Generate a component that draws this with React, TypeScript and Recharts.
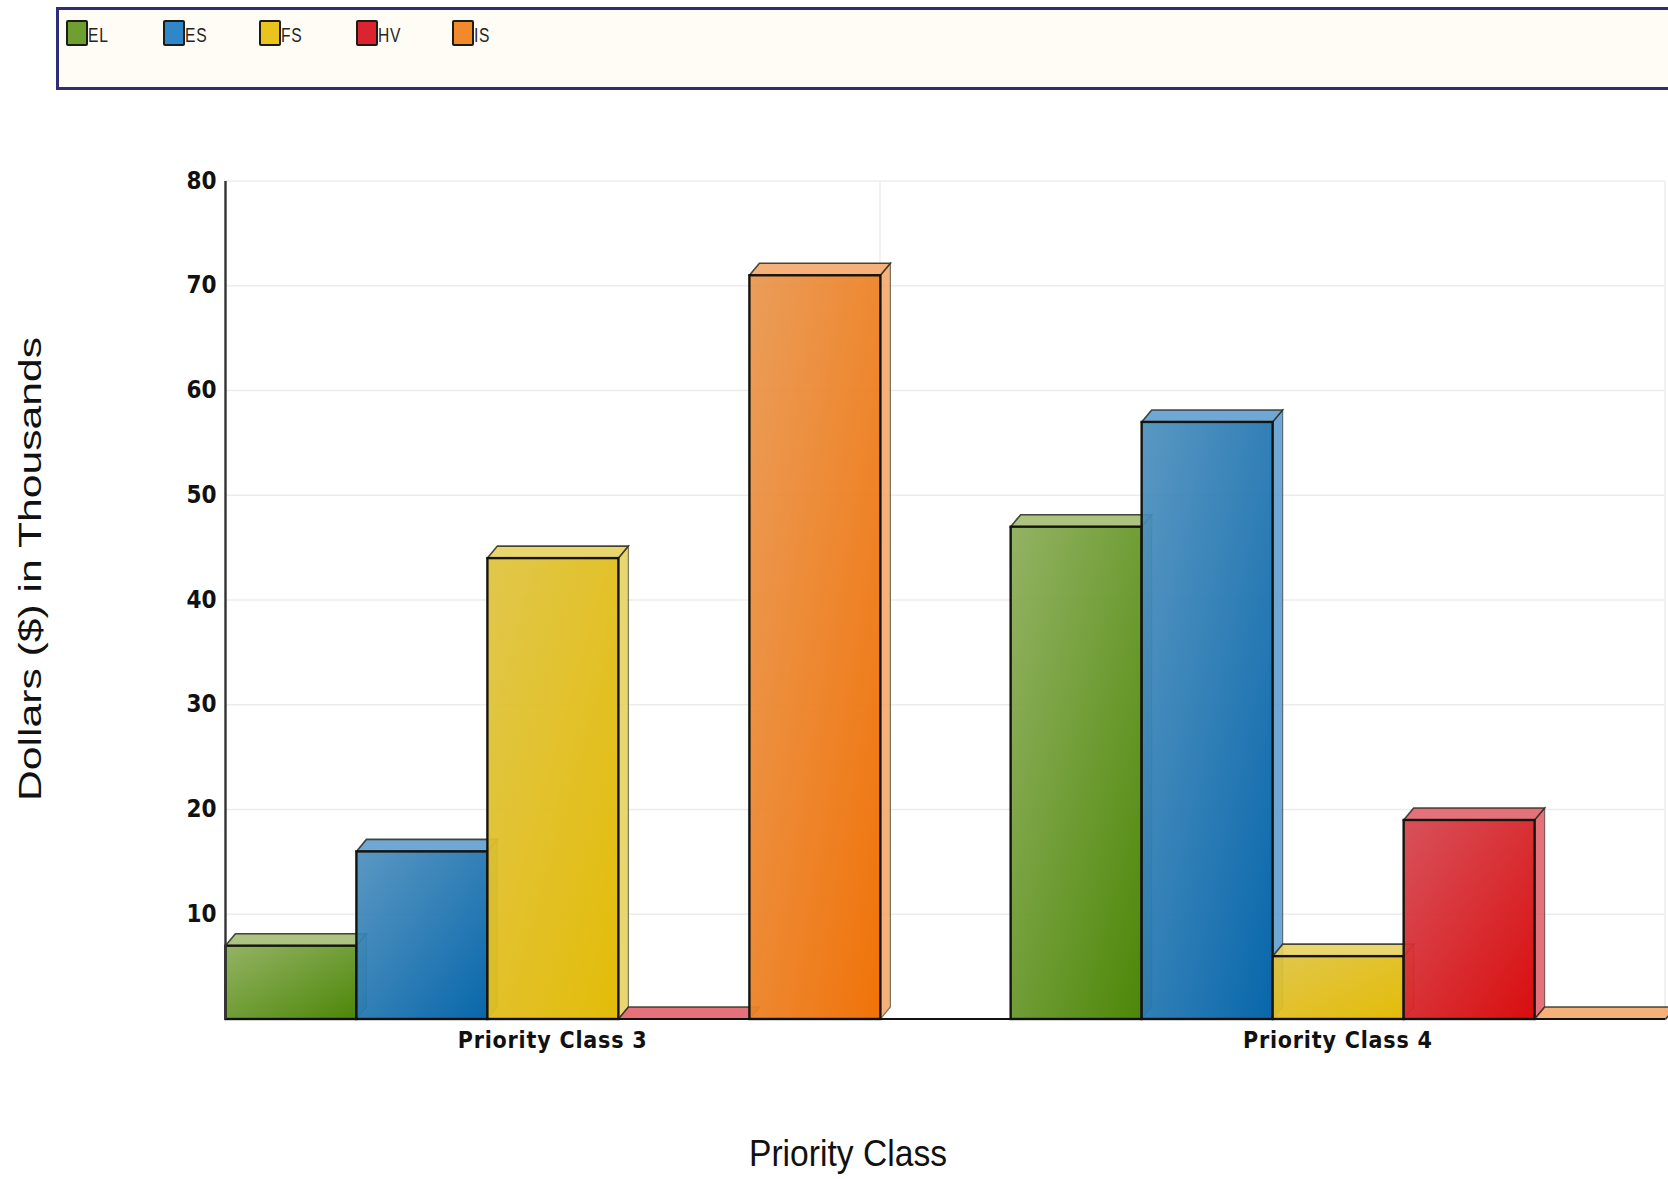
import React from 'react';
import { BarChart, Bar, XAxis, YAxis, CartesianGrid, Legend, Label } from 'recharts';

// ── data ─────────────────────────────────────────────
const categories = ['Priority Class 3', 'Priority Class 4'];
const elValues = [7, 47];
const esValues = [16, 57];
const fsValues = [44, 6];
const hvValues = [0, 19];
const isValues = [71, 0];
const yTicks = [0, 10, 20, 30, 40, 50, 60, 70, 80];

const rows = categories.map((name, i) => ({
  name,
  EL: elValues[i],
  ES: esValues[i],
  FS: fsValues[i],
  HV: hvValues[i],
  IS: isValues[i],
}));

const seriesStyles = [
  { key: 'EL', base: '#6f9f30', light: '#8bad58', dark: '#478300', face: '#a3bd74' },
  { key: 'ES', base: '#2f86c8', light: '#4e90be', dark: '#0062a8', face: '#5f9fcf' },
  { key: 'FS', base: '#e8c41c', light: '#dfc23e', dark: '#e2ba00', face: '#e8d25f' },
  { key: 'HV', base: '#dc2430', light: '#d5444e', dark: '#d80606', face: '#e2626c' },
  { key: 'IS', base: '#f28a2c', light: '#e9964e', dark: '#f06e00', face: '#f4a96a' },
];

const FONT = '"Liberation Sans", Arial, sans-serif';
const CONDENSED = '"DejaVu Sans Condensed", "DejaVu Sans", sans-serif';
const DEPTH_X = 10;
const DEPTH_Y = 12;

// front face plus the translucent top and side faces of a fake 3D column
const Bar3D = (props: any) => {
  const { x, y, width, height, dataKey } = props;
  const style = seriesStyles.find((s) => s.key === dataKey)!;
  const top = `M${x},${y} L${x + DEPTH_X},${y - DEPTH_Y} L${x + width + DEPTH_X},${y - DEPTH_Y} L${x + width},${y} Z`;
  const side = `M${x + width},${y} L${x + width + DEPTH_X},${y - DEPTH_Y} L${x + width + DEPTH_X},${y + height - DEPTH_Y} L${x + width},${y + height} Z`;
  return (
    <g>
      <path d={side} fill={style.face} fillOpacity={0.9} stroke="#2a2a20" strokeOpacity={0.6} strokeWidth={1.2} />
      <path d={top} fill={style.face} fillOpacity={0.9} stroke="#2a2a20" strokeOpacity={0.85} strokeWidth={1.6} />
      <rect
        x={x}
        y={y}
        width={width}
        height={height}
        fill={`url(#grad-${dataKey})`}
        stroke="#14140f"
        strokeWidth={2.4}
      />
    </g>
  );
};

const LegendBox = ({ payload }: any) => (
  <div
    style={{
      width: 1700,
      height: 67,
      boxSizing: 'content-box',
      background: '#fffcf5',
      border: '3px solid #2f2c78',
      display: 'flex',
      paddingLeft: 7,
      paddingTop: 10,
      marginTop: -11,
    }}
  >
    {(payload || []).map((item: any) => (
      <div key={item.value} style={{ display: 'flex', width: 96.5, height: 26 }}>
        <div
          style={{
            width: 18,
            height: 22,
            border: '2px solid #1c1c14',
            borderRadius: 2,
            background: item.color,
          }}
        />
        <span
          style={{
            fontFamily: FONT,
            fontSize: 20,
            letterSpacing: 1,
            color: '#26261f',
            lineHeight: '30px',
            transform: 'scaleX(0.78)',
            transformOrigin: 'left center',
          }}
        >
          {item.value}
        </span>
      </div>
    ))}
  </div>
);

const YTitle = () => (
  <text
    transform="translate(41,569) rotate(-90)"
    textAnchor="middle"
    textLength={464}
    lengthAdjust="spacingAndGlyphs"
    fontFamily={FONT}
    fontSize={31}
    fill="#111"
  >
    Dollars ($) in Thousands
  </text>
);

const XTitle = () => (
  <text
    x={848}
    y={1166}
    textAnchor="middle"
    textLength={198}
    lengthAdjust="spacingAndGlyphs"
    fontFamily={FONT}
    fontSize={37}
    fill="#111"
  >
    Priority Class
  </text>
);

export default function App() {
  return (
    <div style={{ position: 'absolute', left: 0, top: 0, width: 1668, height: 1179, overflow: 'hidden', background: '#fff' }}>
      <BarChart
        width={1668}
        height={1179}
        data={rows}
        margin={{ top: 181, right: 3, bottom: 0, left: 0 }}
        barGap={0}
        barCategoryGap={65.4}
      >
        <defs>
          {seriesStyles.map((s) => (
            <linearGradient key={s.key} id={`grad-${s.key}`} x1="0" y1="0" x2="1" y2="1">
              <stop offset="0%" stopColor={s.light} stopOpacity={0.93} />
              <stop offset="100%" stopColor={s.dark} stopOpacity={0.97} />
            </linearGradient>
          ))}
        </defs>
        <CartesianGrid
          stroke="#ececec"
          strokeWidth={1.5}
          verticalCoordinatesGenerator={({ offset }: any) => [offset.left + 654.5, offset.left + offset.width]}
        />
        <XAxis
          dataKey="name"
          height={160}
          padding={{ left: -65.5, right: -65.5 }}
          interval={0}
          tickLine={false}
          tickMargin={7}
          axisLine={{ stroke: '#111', strokeWidth: 2 }}
          tick={{ fontFamily: CONDENSED, fontWeight: 700, fontSize: 23, letterSpacing: 0.8, fill: '#111' }}
        >
          <Label content={<XTitle />} />
        </XAxis>
        <YAxis
          width={225.5}
          domain={[0, 80]}
          ticks={yTicks}
          tickLine={false}
          tickMargin={3}
          tickFormatter={(v: number) => (v === 0 ? '' : String(v))}
          axisLine={{ stroke: '#333', strokeWidth: 2.4 }}
          tick={{ fontFamily: CONDENSED, fontWeight: 700, fontSize: 24, fill: '#111', dy: -1 }}
        >
          <Label content={<YTitle />} />
        </YAxis>
        <Legend
          layout="horizontal"
          align="center"
          verticalAlign="middle"
          wrapperStyle={{ left: 56, top: 18, width: 1700 }}
          content={<LegendBox />}
        />
        {seriesStyles.map((s) => (
          <Bar
            key={s.key}
            dataKey={s.key}
            name={s.key}
            fill={s.base}
            isAnimationActive={false}
            shape={<Bar3D dataKey={s.key} />}
          />
        ))}
      </BarChart>
    </div>
  );
}
